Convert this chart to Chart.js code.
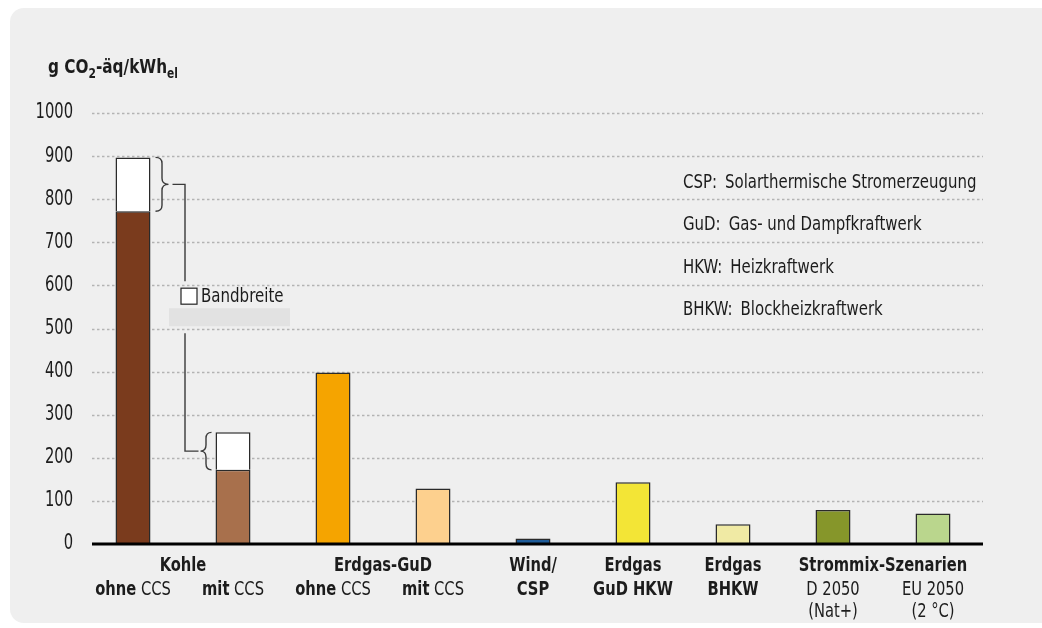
<!DOCTYPE html>
<html>
<head>
<meta charset="utf-8">
<script src="https://cdn.jsdelivr.net/npm/chart.js@4.4.1/dist/chart.umd.min.js"></script>
<style>
  html, body { margin: 0; padding: 0; background: #fff; }
  #wrap { width: 1042px; height: 628px; position: relative; }
</style>
</head>
<body>
<div id="wrap"><canvas id="chart"></canvas></div>
<script>
// ---------- data ----------
const categories = [
  "Kohle ohne CCS", "Kohle mit CCS", "Erdgas-GuD ohne CCS", "Erdgas-GuD mit CCS",
  "Wind/CSP", "Erdgas GuD HKW", "Erdgas BHKW", "Strommix D 2050 (Nat+)", "Strommix EU 2050 (2 °C)"
];
const baseValues = [772, 172, 398, 129, 13, 143, 46, 79, 71];
const upperValues = [897, 259, null, null, null, null, null, null, null]; // Bandbreite top
const barColors = [
  "#7a3b1d", "#a8704c", "#f5a400", "#fdd08e", "#1f5c99",
  "#f3e536", "#f0eaa4", "#86962a", "#bad68d"
];

// x labels, **bold** segments
const labelLine1 = ["", "", "", "", "**Wind/**", "**Erdgas**", "**Erdgas**", "", ""];
const labelLine2 = ["**ohne** CCS", "**mit** CCS", "**ohne** CCS", "**mit** CCS", "**CSP**", "**GuD HKW**", "**BHKW**", "D 2050", "EU 2050"];
const labelLine3 = ["", "", "", "", "", "", "", "(Nat+)", "(2 °C)"];
const groupLabels = ["Kohle", "Erdgas-GuD", "Strommix-Szenarien"];
const groupSpans = [[0, 1], [2, 3], [7, 8]];

const glossaryAbbr = ["CSP:", "GuD:", "HKW:", "BHKW:"];
const glossaryText = ["Solarthermische Stromerzeugung", "Gas- und Dampfkraftwerk", "Heizkraftwerk", "Blockheizkraftwerk"];
const glossaryValues = [838, 740, 641, 543]; // vertical position in axis units

const FONT = "'DejaVu Sans Condensed', 'DejaVu Sans', sans-serif";
const INK = "#1c1c1c";
const SQ = 0.86; // squeeze to mimic a narrow face

const rangeValues = upperValues.map((u, i) => (u == null ? null : u - baseValues[i]));

// ---------- helpers ----------
function fillSq(ctx, text, x, y, sx) {
  ctx.save();
  ctx.translate(x, y);
  ctx.scale(sx, 1);
  ctx.fillText(text, 0, 0);
  ctx.restore();
  return ctx.measureText(text).width * sx;
}

function drawRich(ctx, str, cx, cy, size) {
  // split "**bold** normal" into segments, draw centered
  const parts = str.split("**");
  const segs = parts.map((t, i) => ({ t, bold: i % 2 === 1 })).filter((s) => s.t.length);
  let total = 0;
  segs.forEach((s) => {
    ctx.font = `${s.bold ? "bold " : ""}${size}px ${FONT}`;
    s.w = ctx.measureText(s.t).width * SQ;
    total += s.w;
  });
  let x = cx - total / 2;
  ctx.textAlign = "left";
  ctx.textBaseline = "middle";
  segs.forEach((s) => {
    ctx.font = `${s.bold ? "bold " : ""}${size}px ${FONT}`;
    fillSq(ctx, s.t, x, cy, SQ);
    x += s.w;
  });
}

function brace(ctx, x0, y1, y2, w) {
  // w > 0 : "}" pointing right, w < 0 : "{" pointing left
  const ym = (y1 + y2) / 2;
  const r = Math.min(6, (y2 - y1) / 4);
  const xm = x0 + w / 2;
  ctx.beginPath();
  ctx.moveTo(x0, y1);
  ctx.quadraticCurveTo(xm, y1, xm, y1 + r);
  ctx.lineTo(xm, ym - r);
  ctx.quadraticCurveTo(xm, ym, x0 + w, ym);
  ctx.quadraticCurveTo(xm, ym, xm, ym + r);
  ctx.lineTo(xm, y2 - r);
  ctx.quadraticCurveTo(xm, y2, x0, y2);
  ctx.stroke();
}

// ---------- plugins ----------
const panelPlugin = {
  id: "panel",
  beforeDraw(chart) {
    const ctx = chart.ctx;
    ctx.save();
    ctx.fillStyle = "#ffffff";
    ctx.fillRect(0, 0, chart.width, chart.height);
    ctx.fillStyle = "#efefef";
    ctx.beginPath();
    ctx.roundRect(10, 8, chart.width - 10, 615, [14, 0, 0, 14]);
    ctx.fill();
    ctx.restore();
  },
  beforeDatasetsDraw(chart) {
    const { ctx, chartArea, scales } = chart;
    const y = scales.y;
    ctx.save();
    // dotted grid
    ctx.strokeStyle = "#b3b3b3";
    ctx.lineWidth = 1.5;
    ctx.setLineDash([2.5, 2.5]);
    y.ticks.forEach((t) => {
      if (t.value === 0) return;
      const py = Math.round(y.getPixelForValue(t.value)) + 0.5;
      ctx.beginPath();
      ctx.moveTo(chartArea.left + 9, py);
      ctx.lineTo(chartArea.right, py);
      ctx.stroke();
    });
    // y tick labels
    ctx.fillStyle = INK;
    ctx.font = `21px ${FONT}`;
    ctx.textAlign = "left";
    ctx.textBaseline = "middle";
    y.ticks.forEach((t) => {
      const s = String(t.value);
      const w = ctx.measureText(s).width * 0.78;
      fillSq(ctx, s, chartArea.left - 10 - w, y.getPixelForValue(t.value), 0.78);
    });
    ctx.restore();
  },
  afterDatasetsDraw(chart) {
    const { ctx, chartArea, scales } = chart;
    const x = scales.x, y = scales.y;
    ctx.save();

    // zero line
    const y0 = y.getPixelForValue(0);
    ctx.strokeStyle = "#000";
    ctx.lineWidth = 3;
    ctx.beginPath();
    ctx.moveTo(chartArea.left + 9, y0);
    ctx.lineTo(chartArea.right, y0);
    ctx.stroke();

    // braces + leader for Bandbreite
    const meta = chart.getDatasetMeta(0);
    const b0 = meta.data[0], b1 = meta.data[1];
    const r0 = b0.x + b0.width / 2, l1 = b1.x - b1.width / 2;
    const leadX = (r0 + l1) / 2 + 2;
    ctx.strokeStyle = "#3a3a3a";
    ctx.lineWidth = 1.4;
    const t0 = y.getPixelForValue(upperValues[0]), s0 = y.getPixelForValue(baseValues[0]);
    brace(ctx, r0 + 5, t0, s0, 13);
    const t1 = y.getPixelForValue(upperValues[1]), s1 = y.getPixelForValue(baseValues[1]);
    brace(ctx, l1 - 4, t1, s1, -11);

    const legY = y.getPixelForValue(575);
    ctx.beginPath();
    ctx.moveTo(r0 + 22, (t0 + s0) / 2);
    ctx.lineTo(leadX, (t0 + s0) / 2);
    ctx.lineTo(leadX, legY - 15);
    ctx.moveTo(leadX, legY + 37);
    ctx.lineTo(leadX, (t1 + s1) / 2);
    ctx.lineTo(l1 - 17, (t1 + s1) / 2);
    ctx.stroke();

    // gray band under legend
    ctx.fillStyle = "#e2e2e2";
    ctx.fillRect(leadX - 16, legY + 12, 121, 18);
    // legend square + text
    ctx.fillStyle = "#fff";
    ctx.fillRect(leadX - 4, legY - 8, 16, 16);
    ctx.strokeStyle = "#222";
    ctx.lineWidth = 1.2;
    ctx.strokeRect(leadX - 4, legY - 8, 16, 16);
    ctx.fillStyle = INK;
    ctx.font = `19px ${FONT}`;
    ctx.textAlign = "left";
    ctx.textBaseline = "middle";
    fillSq(ctx, "Bandbreite", leadX + 16, legY + 1, 0.88);

    // glossary
    glossaryAbbr.forEach((a, i) => {
      const gy = y.getPixelForValue(glossaryValues[i]);
      ctx.font = `19px ${FONT}`;
      const w = fillSq(ctx, a, 683, gy, 0.875);
      fillSq(ctx, glossaryText[i], 683 + w + 8, gy, 0.875);
    });

    // unit title
    ctx.textBaseline = "alphabetic";
    let tx = 48;
    const ty = 73;
    const pieces = [["g CO", 20, 0], ["2", 14, 5], ["-äq/kWh", 20, 0], ["el", 14, 5]];
    pieces.forEach(([t, s, dy]) => {
      ctx.font = `bold ${s}px ${FONT}`;
      tx += fillSq(ctx, t, tx, ty + dy, 0.85);
    });

    // x labels
    ctx.fillStyle = INK;
    categories.forEach((c, i) => {
      const cx = x.getPixelForValue(i);
      if (labelLine1[i]) drawRich(ctx, labelLine1[i], cx, y0 + 22, 19);
      if (labelLine2[i]) drawRich(ctx, labelLine2[i], cx, y0 + 46, 19);
      if (labelLine3[i]) drawRich(ctx, labelLine3[i], cx, y0 + 68, 19);
    });
    groupLabels.forEach((g, k) => {
      const [a, b] = groupSpans[k];
      const cx = (x.getPixelForValue(a) + x.getPixelForValue(b)) / 2;
      drawRich(ctx, "**" + g + "**", cx, y0 + 22, 19);
    });

    ctx.restore();
  },
};

// ---------- chart ----------
new Chart(document.getElementById("chart"), {
  type: "bar",
  data: {
    labels: categories,
    datasets: [
      {
        data: baseValues,
        backgroundColor: barColors,
        borderColor: "#2a2a2a",
        borderWidth: 1.5,
        barPercentage: 0.35,
        categoryPercentage: 1,
      },
      {
        data: rangeValues,
        backgroundColor: "#ffffff",
        borderColor: "#2a2a2a",
        borderWidth: 1.5,
        barPercentage: 0.35,
        categoryPercentage: 1,
      },
    ],
  },
  options: {
    responsive: true,
    maintainAspectRatio: false,
    animation: false,
    layout: { padding: { top: 113, right: 59, bottom: 0, left: 0 } },
    plugins: { legend: { display: false }, tooltip: { enabled: false } },
    scales: {
      x: {
        stacked: true,
        ticks: { display: false },
        grid: { display: false },
        border: { display: false },
        afterFit: (s) => { s.height = 84; },
      },
      y: {
        stacked: true,
        min: 0,
        max: 1000,
        ticks: { stepSize: 100, display: false },
        grid: { display: false, drawTicks: false },
        border: { display: false },
        afterFit: (s) => { s.width = 83; },
      },
    },
  },
  plugins: [panelPlugin],
});
</script>
</body>
</html>
